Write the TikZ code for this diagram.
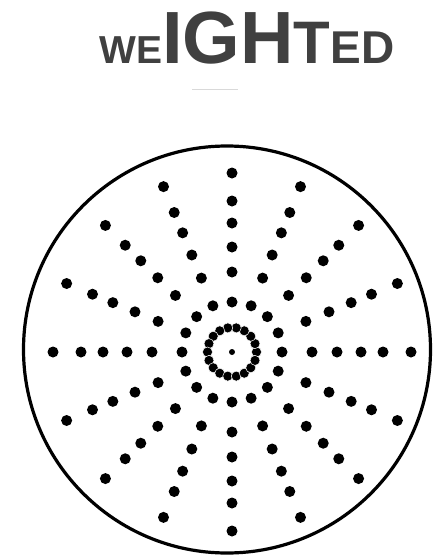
\documentclass[tikz,border=0pt]{standalone}
\usepackage{fontspec}
\setmainfont{Liberation Sans}
\usepackage{xcolor}
\usepackage{tikz}
\usetikzlibrary{positioning}

\definecolor{inkgray}{HTML}{404040}

\begin{document}
\begin{tikzpicture}[
    x=1pt, y=-1pt,
    title/.style={
        inner sep=0pt,
        text=inkgray,
        font=\bfseries
    },
    spot/.style={
        circle,
        fill=black,
        inner sep=0pt,
        minimum size=11pt
    },
    bead/.style={
        circle,
        fill=black,
        draw=white,
        line width=0.5pt,
        inner sep=0pt,
        minimum size=10pt
    }
]
\useasboundingbox (0,0) rectangle (432,560);

% Title

\node[title, anchor=base] (title) at (247,63) {%
{\fontsize{39}{39}\selectfont WE}%
{\fontsize{74}{74}\selectfont IGH}%
{\fontsize{60}{60}\selectfont T}%
{\fontsize{46}{46}\selectfont ED}};

\coordinate (smudge west) at (192,89);
\coordinate (smudge east) at (238,89);
\draw[gray!30, line width=1pt] (smudge west) -- (smudge east);


% Rim

\coordinate (rim) at (227,349.5);
\draw[line width=3.2pt] (rim) circle[radius=203.5pt];


% Hub and inner ring

\coordinate (hub) at (232,352);
\node[circle, fill=black, inner sep=0pt, minimum size=6pt] (core) at (hub) {};

\foreach \k in {0,...,17}
    \node[bead] (bead-\k) at ([shift={(\k*20:24.5pt)}]hub) {};


% Spokes

\foreach \a [count=\s] in {0,22.5,...,337.5}
    \foreach \r [count=\i] in {50,80,105,129,151,179}
        \node[spot] (spot-\s-\i) at ([shift={(\a:\r pt)}]hub) {};

\end{tikzpicture}
\end{document}
